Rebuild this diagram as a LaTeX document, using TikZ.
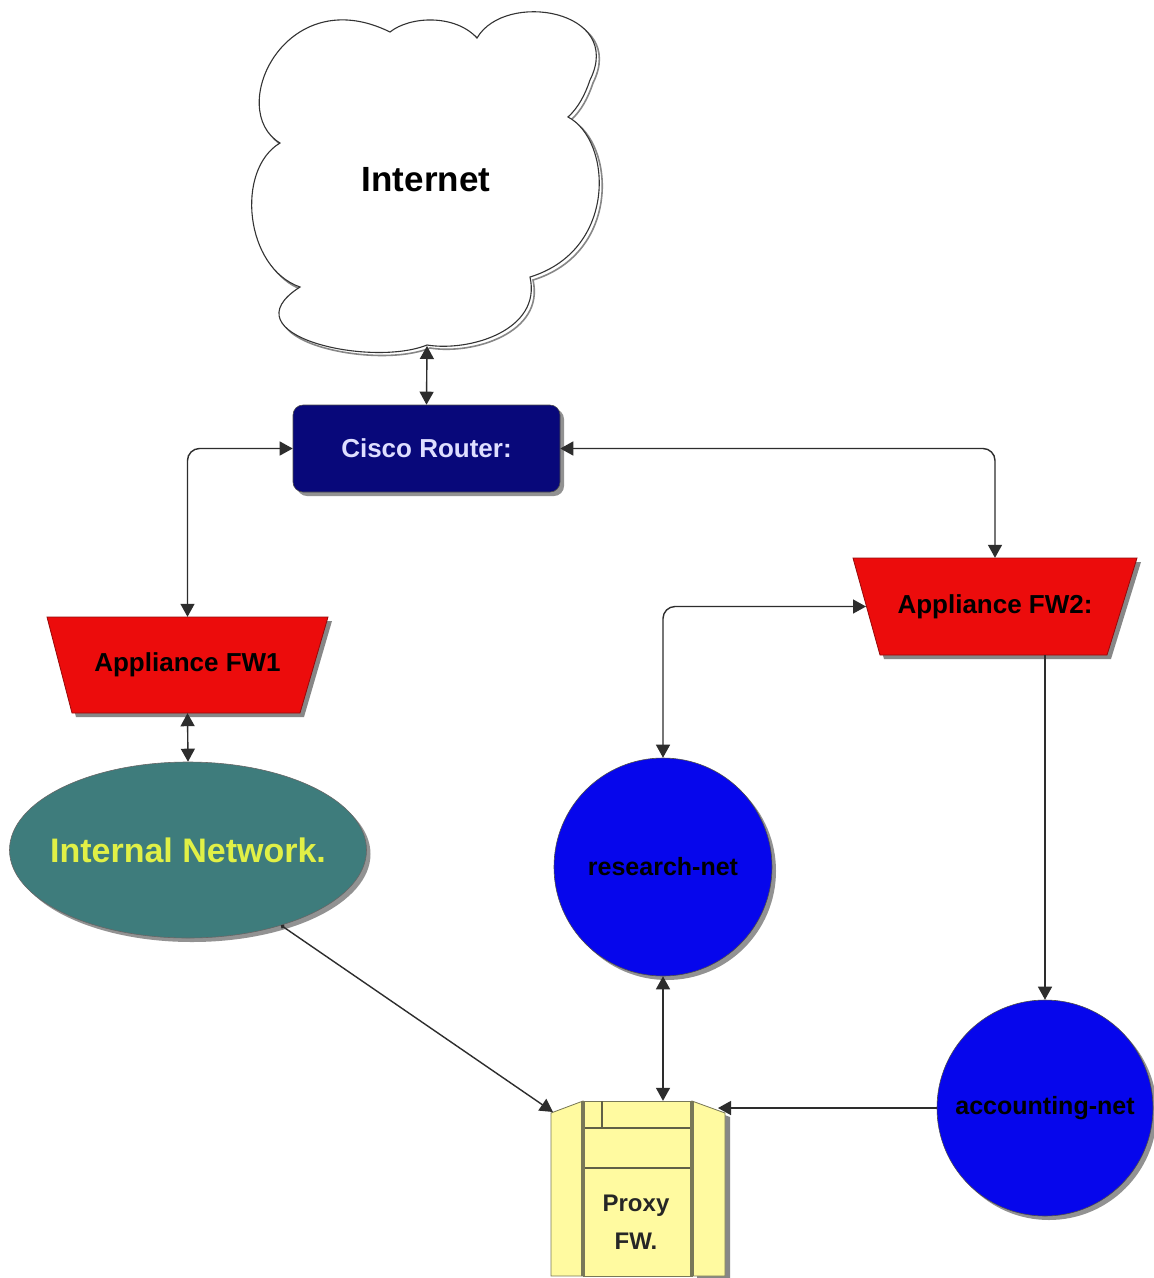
\documentclass[tikz,border=0pt]{standalone}
\usepackage{fontspec}
\setmainfont{Liberation Sans}
\usetikzlibrary{arrows.meta,shapes.geometric,shadows,calc}
\definecolor{navyc}{RGB}{8,8,122}
\definecolor{routertxt}{RGB}{222,222,255}
\definecolor{fwred}{RGB}{236,12,12}
\definecolor{fwedge}{RGB}{150,10,10}
\definecolor{tealc}{RGB}{62,124,124}
\definecolor{inettxt}{RGB}{225,240,70}
\definecolor{bluec}{RGB}{6,6,236}
\definecolor{pyellow}{RGB}{255,250,160}
\definecolor{pedge}{RGB}{120,120,88}
\definecolor{shadowc}{RGB}{135,135,135}
\definecolor{linec}{RGB}{45,45,45}
\begin{document}
\begin{tikzpicture}[x=1pt,y=-1pt,
  >={Triangle[length=13pt,width=14pt]},
  conn/.style={draw=linec, line width=1.4pt},
  shad/.style={drop shadow={shadow xshift=4pt,shadow yshift=-4pt,fill=shadowc,opacity=0.9}},
  router/.style={rectangle, rounded corners=10pt, fill=navyc, draw=black!70, line width=0.6pt,
    minimum width=267pt, minimum height=87pt, inner sep=0pt, shad,
    text=routertxt, font=\bfseries\fontsize{26}{30}\selectfont},
  fwtxt/.style={rectangle, inner sep=0pt, minimum width=281pt, minimum height=96pt,
    text=black, font=\bfseries\fontsize{26}{30}\selectfont},
  inetnode/.style={ellipse, fill=tealc, draw=black!60, line width=0.6pt,
    minimum width=357pt, minimum height=176pt, inner sep=0pt, shad},
  inettxtstyle/.style={text=inettxt, inner sep=0pt, font=\bfseries\fontsize{34}{38}\selectfont},
  netnode/.style={circle, fill=bluec, draw=black!70, line width=0.6pt,
    minimum size=218pt, inner sep=0pt, shad,
    text=black, font=\bfseries\fontsize{25}{30}\selectfont},
  ptxtstyle/.style={align=center, text=black!85, font=\bfseries\fontsize{24}{38}\selectfont},
  cloudtxt/.style={text=black, font=\bfseries\fontsize{35}{40}\selectfont}
]
\useasboundingbox (0,0) rectangle (1154,1278);
\fill[white] (0,0) rectangle (1154,1278);

% ---- cloud ----
\def\cloudpath{(390,32) .. controls (410,16) and (455,14) .. (477,38)
  .. controls (505,-10) and (625,10) .. (590,80) .. controls (585,95) and (578,108) .. (568,117)
  .. controls (612,140) and (618,250) .. (530,277)
  .. controls (542,330) and (470,352) .. (427,345)
  .. controls (370,368) and (225,335) .. (300,287)
  .. controls (245,268) and (235,170) .. (280,143)
  .. controls (225,110) and (285,-20) .. (390,32) -- cycle}
\draw[shadowc, line width=1.6pt, shift={(3,3)}] \cloudpath;
\filldraw[fill=white, draw=black!80, line width=1.1pt] \cloudpath;
\node[cloudtxt] (internet) at (426,180) {Internet};
\coordinate (cloudb) at (427,346);

% ---- router ----
\node[router] (router) at (426.5,448.5) {Cisco Router:};

% ---- firewalls ----
\fill[shadowc] (51,621) -- (332,621) -- (304,717) -- (76,717) -- cycle;
\filldraw[fill=fwred, draw=fwedge, line width=0.8pt] (47,617) -- (328,617) -- (300,713) -- (72,713) -- cycle;
\node[fwtxt] (fw1) at (187.5,665) {Appliance FW1};

\fill[shadowc] (857,562) -- (1141,562) -- (1111,659) -- (884,659) -- cycle;
\filldraw[fill=fwred, draw=fwedge, line width=0.8pt] (853,558) -- (1137,558) -- (1107,655) -- (880,655) -- cycle;
\node[fwtxt, minimum width=284pt, minimum height=97pt] (fw2) at (995,606.5) {Appliance FW2:};
\coordinate (fw2in) at (866,606.5);

% ---- networks ----
\node[inetnode] (inet) at (188,850) {};
\node[inettxtstyle] (inettxt) at (inet.center) {Internal Network.};
\node[netnode] (res) at (663,867) {research-net};
\node[netnode, minimum size=216pt] (acc) at (1045,1108) {accounting-net};

% ---- proxy ----
\fill[shadowc] (697,1105) -- (730,1117) -- (730,1278) -- (697,1278) -- cycle;
\filldraw[fill=pyellow, draw=pedge, line width=0.8pt] (551,1113) -- (583,1101) -- (583,1276) -- (551,1276) -- cycle;
\filldraw[fill=pyellow, draw=pedge, line width=0.8pt] (692,1101) -- (725,1113) -- (725,1276) -- (692,1276) -- cycle;
\filldraw[fill=pyellow, draw=pedge, line width=0.8pt] (583,1101) rectangle (692,1276);
\draw[pedge, line width=4pt] (583,1101) -- (583,1276);
\draw[pedge, line width=4pt] (692,1101) -- (692,1276);
\draw[pedge!80!black, line width=1.4pt] (585,1128) -- (690,1128);
\draw[pedge!80!black, line width=1.4pt] (585,1168) -- (690,1168);
\draw[pedge!80!black, line width=1.4pt] (602,1101) -- (602,1128);
\node[minimum width=174pt, minimum height=175pt, inner sep=0pt] (proxy) at (638,1188.5) {};
\node[ptxtstyle] (ptxt) at (636,1222) {Proxy\\FW.};
\coordinate (pleft) at (553,1112);
\coordinate (pright) at (718,1108);

% ---- connectors ----
\draw[conn,<->] (cloudb) -- (router.north);
\draw[conn,<->,rounded corners=12pt] (router.west) -| (fw1.north);
\draw[conn,<->,rounded corners=12pt] (router.east) -| (fw2.north);
\draw[conn,<->] (fw1.south) -- (inet.north);
\draw[conn,<->,rounded corners=12pt] (fw2in) -| (res.north);
\draw[conn,->] (acc.north |- fw2.south) -- (acc.north);
\draw[conn,<->] (res.south) -- (res.south |- proxy.north);
\draw[conn,{Circle[length=4pt]}->] (inet.-39) -- (pleft);
\draw[conn,->] (acc.west) -- (acc.west -| pright);
\end{tikzpicture}
\end{document}
